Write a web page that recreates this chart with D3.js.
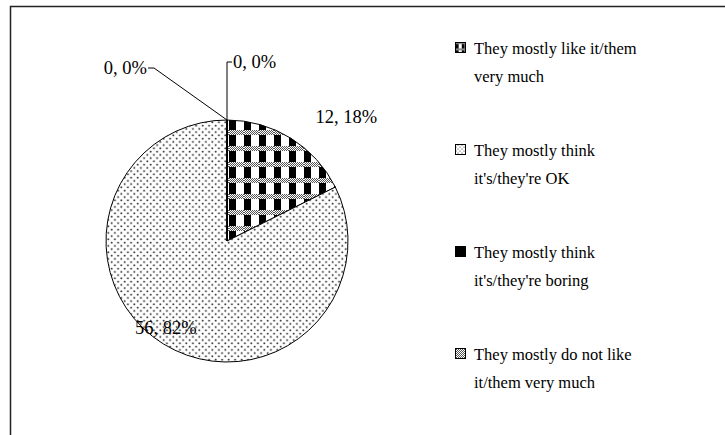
<!DOCTYPE html>
<html>
<head>
<meta charset="utf-8">
<script src="https://cdn.jsdelivr.net/npm/d3@7"></script>
<style>
  body { margin: 0; background: #fff; }
  text { font-family: "Liberation Serif", "Times New Roman", serif; fill: #000; }
</style>
</head>
<body>
<script>
// canvas numbers
var w = 725;
var h = 435;
// pie numbers
var cx = 227;
var cy = 241;
var radius = 121;
var labelSize = 18.5;
var legendSize = 16.5;
// legend numbers
var legendX = 455;
var legendTop = 48;
var legendBottom = 354;
var lineGap = 28.5;

// data
var categories = [
    "They mostly like it/them very much",
    "They mostly think it's/they're OK",
    "They mostly think it's/they're boring",
    "They mostly do not like it/them very much"
];
var legendLines = [
    ["They mostly like it/them", "very much"],
    ["They mostly think", "it's/they're OK"],
    ["They mostly think", "it's/they're boring"],
    ["They mostly do not like", "it/them very much"]
];
var counts = [12, 56, 0, 0];
var fills = ["url(#checker)", "url(#dots)", "#000", "url(#gray)"];
var iconFills = ["url(#checkerSmall)", "url(#dotsSmall)", "#000", "url(#gray)"];

var total = d3.sum(counts);

var svg = d3.select("body")
            .append("svg")
            .attr("width", w)
            .attr("height", h);

// ---------- fill patterns ----------
var defs = svg.append("defs");

// fine gray dither
var gray = defs.append("pattern")
    .attr("id", "gray")
    .attr("patternUnits", "userSpaceOnUse")
    .attr("width", 2).attr("height", 2);
gray.append("rect").attr("width", 2).attr("height", 2).attr("fill", "#fff");
gray.append("rect").attr("width", 1).attr("height", 1).attr("fill", "#555");
gray.append("rect").attr("x", 1).attr("y", 1).attr("width", 1).attr("height", 1).attr("fill", "#555");

// checker: gray band + black/white squares
function makeChecker(id, scale){
    var p = defs.append("pattern")
        .attr("id", id)
        .attr("patternUnits", "userSpaceOnUse")
        .attr("width", 15).attr("height", 16)
        .attr("x", cx).attr("y", cy)
        .attr("patternTransform", "scale(" + scale + ")");
    p.append("rect").attr("width", 15).attr("height", 16).attr("fill", "#fff");
    p.append("rect").attr("width", 15).attr("height", 5).attr("fill", scale < 1 ? "#888" : "url(#gray)");
    p.append("rect").attr("x", 0).attr("y", 5).attr("width", 7).attr("height", 11).attr("fill", "#000");
}
makeChecker("checker", 1);
makeChecker("checkerSmall", 0.4);

// staggered dots
function makeDots(id, size, r){
    var p = defs.append("pattern")
        .attr("id", id)
        .attr("patternUnits", "userSpaceOnUse")
        .attr("width", size).attr("height", size);
    p.append("rect").attr("width", size).attr("height", size).attr("fill", "#fff");
    p.append("circle").attr("cx", size * 0.25).attr("cy", size * 0.25).attr("r", r).attr("fill", "#333");
    p.append("circle").attr("cx", size * 0.75).attr("cy", size * 0.75).attr("r", r).attr("fill", "#333");
}
makeDots("dots", 6.5, 1);
makeDots("dotsSmall", 4, 0.6);

// ---------- frame ----------
svg.append("rect")
    .attr("x", 10.5).attr("y", 6.5)
    .attr("width", 800).attr("height", 600)
    .attr("fill", "none")
    .attr("stroke", "#222")
    .attr("stroke-width", 1.5);

// ---------- pie ----------
var pie = d3.pie().sort(null).value(function(d){ return d; });
var arcs = pie(counts);
var arc = d3.arc().innerRadius(0).outerRadius(radius);

var g = svg.append("g").attr("transform", "translate(" + cx + "," + cy + ")");

g.selectAll("path.slice")
    .data(arcs)
    .enter().append("path")
    .attr("class", "slice")
    .attr("d", arc)
    .attr("fill", function(d, i){ return fills[i]; })
    .attr("stroke", "#000")
    .attr("stroke-width", 1)
    .attr("stroke-linejoin", "round");

function labelText(i){
    return counts[i] + ", " + Math.round(counts[i] / total * 100) + "%";
}

// data labels: non-zero slices along the mid angle, zero slices with leader lines
var labelArc = d3.arc().innerRadius(radius * 1.2).outerRadius(radius * 1.2);
var innerLabelArc = d3.arc().innerRadius(radius * 0.85).outerRadius(radius * 0.85);

// 12, 18%
var c0 = labelArc.centroid(arcs[0]);
g.append("text")
    .attr("x", c0[0] + 12).attr("y", c0[1] + 5)
    .attr("font-size", labelSize)
    .attr("text-anchor", "start")
    .text(labelText(0));

// 56, 82%
var c1 = innerLabelArc.centroid(arcs[1]);
g.append("text")
    .attr("x", c1[0] - 7).attr("y", c1[1] + 6)
    .attr("font-size", labelSize)
    .attr("text-anchor", "middle")
    .text(labelText(1));

// zero slices sit at the top of the pie
var topPt = [Math.sin(arcs[2].startAngle) * radius, -Math.cos(arcs[2].startAngle) * radius];

// left one (boring)
g.append("path")
    .attr("d", d3.line()([[topPt[0], topPt[1]], [topPt[0] - 73, topPt[1] - 52], [topPt[0] - 79, topPt[1] - 52]]))
    .attr("fill", "none").attr("stroke", "#000").attr("stroke-width", 1);
g.append("text")
    .attr("x", topPt[0] - 80).attr("y", topPt[1] - 46)
    .attr("font-size", labelSize)
    .attr("text-anchor", "end")
    .text(labelText(2));

// right one (do not like)
g.append("path")
    .attr("d", d3.line()([[topPt[0], topPt[1]], [topPt[0], topPt[1] - 58], [topPt[0] + 5, topPt[1] - 58]]))
    .attr("fill", "none").attr("stroke", "#000").attr("stroke-width", 1);
g.append("text")
    .attr("x", topPt[0] + 6).attr("y", topPt[1] - 52)
    .attr("font-size", labelSize)
    .attr("text-anchor", "start")
    .text(labelText(3));

// ---------- legend ----------
var legendY = d3.scalePoint()
    .domain(categories)
    .range([legendTop, legendBottom]);

var legend = svg.append("g")
    .selectAll("g")
    .data(categories)
    .enter().append("g")
    .attr("transform", function(d){ return "translate(" + legendX + "," + legendY(d) + ")"; });

legend.append("rect")
    .attr("x", 0.5).attr("y", -5.5)
    .attr("width", 10).attr("height", 10)
    .attr("fill", function(d, i){ return iconFills[i]; })
    .attr("stroke", "#000")
    .attr("stroke-width", 1);

legend.each(function(d, i){
    var t = d3.select(this).append("text")
        .attr("x", 19)
        .attr("y", 5.5)
        .attr("font-size", legendSize);
    legendLines[i].forEach(function(line, j){
        t.append("tspan")
            .attr("x", 19)
            .attr("dy", j == 0 ? 0 : lineGap)
            .text(line);
    });
});
</script>
</body>
</html>
